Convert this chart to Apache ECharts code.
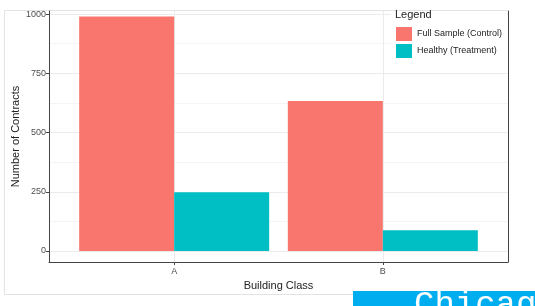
<!DOCTYPE html>
<html>
<head>
<meta charset="utf-8">
<script src="https://cdn.jsdelivr.net/npm/echarts@6/dist/echarts.min.js"></script>
<style>
  html, body { margin: 0; padding: 0; background: #fff; }
  #chart { width: 535px; height: 306px; }
</style>
</head>
<body>
<div id="chart"></div>
<script>
// categories sit at 1 and 2 on a value axis, like ggplot's discrete scale
var categories = ["A", "B"];
var categoryPos = [1, 2];
var controlValues = [990, 633];
var treatmentValues = [248, 88];
var yTicks = [0, 250, 500, 750, 1000];
var yMinorTicks = [125, 375, 625, 875];
var seriesNames = ["Full Sample (Control)", "Healthy (Treatment)"];

var chart = echarts.init(document.getElementById("chart"));

function pairs(vals) {
  return vals.map(function (v, i) { return [categoryPos[i], v]; });
}

var axisColor = "#444";
var labelColor = "#4d4d4d";
var font = "Liberation Sans, Arial, sans-serif";

var option = {
  animation: false,
  backgroundColor: "#fff",
  textStyle: { fontFamily: font },
  title: {
    text: "Legend",
    left: 395,
    top: 9,
    padding: 0,
    textStyle: { fontSize: 11, fontWeight: "normal", color: "#222", fontFamily: font }
  },
  legend: {
    orient: "vertical",
    left: 396,
    top: 27,
    padding: 0,
    itemWidth: 16,
    itemHeight: 14,
    itemGap: 3,
    icon: "rect",
    textStyle: { fontSize: 9, color: "#222", fontFamily: font },
    data: seriesNames
  },
  grid: { left: 49, right: 27, top: 11, bottom: 44, containLabel: false, outerBoundsMode: "none" },
  xAxis: {
    type: "value",
    min: 0.4,
    max: 2.6,
    name: "Building Class",
    nameLocation: "middle",
    nameGap: 16,
    nameTextStyle: { fontSize: 11, color: "#222" },
    axisLine: { show: true, onZero: false, lineStyle: { color: axisColor, width: 1 } },
    axisTick: { show: true, length: 3, customValues: categoryPos, lineStyle: { color: axisColor } },
    axisLabel: {
      customValues: categoryPos,
      fontSize: 9,
      color: labelColor,
      margin: 5,
      formatter: function (v) {
        var i = categoryPos.indexOf(v);
        return i >= 0 ? categories[i] : "";
      }
    },
    splitLine: { show: true, lineStyle: { color: "#ebebeb", width: 1 } }
  },
  yAxis: [
    {
      type: "value",
      min: -46.4,
      max: 1013,
      name: "Number of Contracts",
      nameLocation: "middle",
      nameGap: 28,
      nameMoveOverlap: false,
      nameRotate: 90,
      nameTextStyle: { fontSize: 11, color: "#222" },
      axisLine: { show: true, onZero: false, lineStyle: { color: axisColor, width: 1 } },
      axisTick: { show: true, length: 3, customValues: yTicks, lineStyle: { color: axisColor } },
      axisLabel: {
        customValues: yTicks,
        fontSize: 9,
        color: labelColor,
        margin: 3,
        formatter: function (v) { return String(v); }
      },
      splitLine: { show: true, lineStyle: { color: "#ebebeb", width: 1 } }
    },
    {
      type: "value",
      min: -46.4,
      max: 1013,
      position: "left",
      axisLine: { show: false },
      axisTick: { show: false, customValues: yMinorTicks },
      axisLabel: { show: false },
      splitLine: { show: true, lineStyle: { color: "#f4f4f4", width: 1 } }
    },
    {
      type: "value",
      min: -46.4,
      max: 1013,
      position: "right",
      axisLine: { show: true, onZero: false, lineStyle: { color: axisColor, width: 1 } },
      axisTick: { show: false },
      axisLabel: { show: false },
      splitLine: { show: false }
    }
  ],
  graphic: [
    {
      type: "polyline",
      z: 0,
      silent: true,
      shape: { points: [[508, 10.5], [4.5, 10.5], [4.5, 294.5], [353, 294.5]] },
      style: { stroke: "#e3e3e3", fill: null, lineWidth: 1 }
    },
    {
      type: "rect",
      z: 3,
      silent: true,
      shape: { x: 391, y: 11.5, width: 116, height: 50 },
      style: { fill: "#fff" }
    },
    {
      type: "rect",
      z: 10,
      silent: true,
      shape: { x: 353, y: 291, width: 182, height: 15 },
      style: { fill: "#00aeef" }
    },
    {
      type: "text",
      z: 11,
      silent: true,
      left: 414,
      top: 288,
      style: {
        text: "Chicago",
        fill: "#fff",
        font: "34px 'Liberation Mono', 'DejaVu Sans Mono', monospace"
      }
    }
  ],
  series: [
    {
      name: seriesNames[0],
      type: "bar",
      barWidth: 95,
      barGap: "0%",
      itemStyle: { color: "#F8766D" },
      data: pairs(controlValues)
    },
    {
      name: seriesNames[1],
      type: "bar",
      barWidth: 95,
      barGap: "0%",
      itemStyle: { color: "#00BFC4" },
      data: pairs(treatmentValues)
    }
  ]
};

chart.setOption(option);
</script>
</body>
</html>
